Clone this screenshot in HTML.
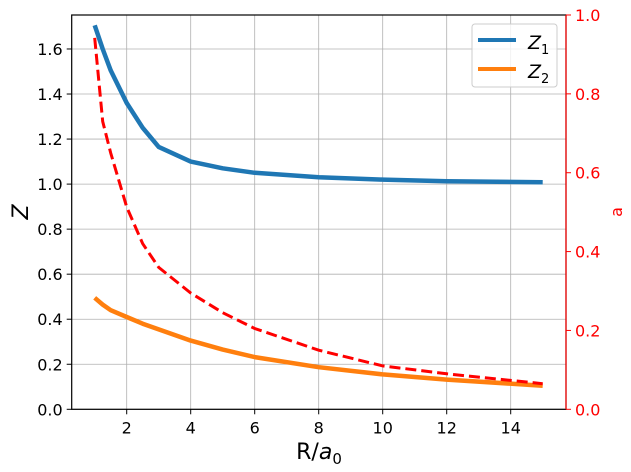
<!DOCTYPE html>
<html><head><meta charset="utf-8"><style>
body{margin:0;background:#fff;}
svg{display:block;font-family:"DejaVu Sans","Liberation Sans",sans-serif;}
</style></head><body>
<svg id="chart" width="631" height="472" xmlns="http://www.w3.org/2000/svg">
<g id="grid"></g>
<g id="series"></g>
<rect x="71.7" y="15" width="494.3" height="394.3" fill="none" stroke="#000" stroke-width="1.2"/>
<g id="axes"></g>
<text x="319" y="459" font-size="22" text-anchor="middle">R/<tspan font-style="italic">a</tspan><tspan font-size="15" dy="5">0</tspan></text>
<text x="0" y="0" font-size="22" font-style="italic" text-anchor="middle" transform="translate(28,212) rotate(-90)">Z</text>
<text x="0" y="0" font-size="16" fill="#ff0000" text-anchor="middle" transform="translate(622,212) rotate(-90)">a</text>
<g>
<rect x="472" y="24" width="85" height="63" rx="3" fill="#fff" fill-opacity="0.8" stroke="#ccc"/>
<line x1="478" y1="40" x2="516" y2="40" stroke="#1f77b4" stroke-width="4"/>
<text x="528" y="49" font-size="19" font-style="italic">Z<tspan font-style="normal" font-size="13" dy="5">1</tspan></text>
<line x1="478" y1="69" x2="516" y2="69" stroke="#ff7f0e" stroke-width="4"/>
<text x="528" y="78" font-size="19" font-style="italic">Z<tspan font-style="normal" font-size="13" dy="5">2</tspan></text>
</g>
</svg>
<script>
const xVals=[1,1.25,1.5,2,2.5,3,4,5,6,8,10,12,15];
const z1Vals=[1.705,1.6,1.505,1.36,1.25,1.165,1.1,1.07,1.05,1.03,1.02,1.013,1.008];
const z2Vals=[0.495,0.465,0.44,0.41,0.38,0.355,0.305,0.265,0.232,0.187,0.155,0.132,0.105];
const aVals=[0.942,0.73,0.65,0.513,0.42,0.36,0.295,0.245,0.205,0.15,0.11,0.09,0.065];
const xTicks=[2,4,6,8,10,12,14];
const yTicks=[0,0.2,0.4,0.6,0.8,1.0,1.2,1.4,1.6];
const y2Ticks=[0,0.2,0.4,0.6,0.8,1.0];
const L=71.7,R=566,T=15,B=409.3;
const sx=v=>62.7+v*32;
const sy=v=>B-v*225.2;
const sy2=v=>B-v*(B-T);
const NS="http://www.w3.org/2000/svg";
function mk(tag,attrs,parent){const e=document.createElementNS(NS,tag);for(const k in attrs)e.setAttribute(k,attrs[k]);parent.appendChild(e);return e;}
const grid=document.getElementById('grid'),axes=document.getElementById('axes'),series=document.getElementById('series');
xTicks.forEach(t=>{const x=sx(t);
 const g=mk('line',{x1:x,x2:x,y1:T,y2:B,stroke:'#b0b0b0','stroke-width':0.8},grid);
 
 
 const k=mk('line',{x1:x,x2:x,y1:B,y2:B+5,stroke:'#000'},axes);
 
 
 const l=mk('text',{x:x,y:B+24,'font-size':16,'text-anchor':'middle'},axes);l.textContent=t;
 
 
});
yTicks.forEach(t=>{const y=sy(t);
 const g=mk('line',{x1:L,x2:R,y1:y,y2:y,stroke:'#b0b0b0','stroke-width':0.8},grid);
 
 
 const k=mk('line',{x1:L-5,x2:L,y1:y,y2:y,stroke:'#000'},axes);
 
 
 const l=mk('text',{x:L-9,y:y+6,'font-size':16,'text-anchor':'end'},axes);l.textContent=t.toFixed(1);
 
 
});
y2Ticks.forEach(t=>{const y=sy2(t);
 const k=mk('line',{x1:R,x2:R+5,y1:y,y2:y,stroke:'#ff0000'},axes);
 
 
 const l=mk('text',{x:R+9,y:y+6,'font-size':16,fill:'#ff0000'},axes);l.textContent=t.toFixed(1);
 
 
});
const ax2=mk('line',{x1:R,x2:R,y1:T,y2:B,stroke:'#ff0000','stroke-width':1.2},axes);


function pathFrom(ys,fy){let d='';for(let i=0;i<xVals.length;i++){d+=(i?'L':'M')+sx(xVals[i]).toFixed(1)+','+fy(ys[i]).toFixed(1);}return d;}
const p1=mk('path',{d:pathFrom(z1Vals,sy),fill:'none',stroke:'#1f77b4','stroke-width':4.5,'stroke-linejoin':'round'},series);


const p2=mk('path',{d:pathFrom(z2Vals,sy),fill:'none',stroke:'#ff7f0e','stroke-width':4.5,'stroke-linejoin':'round'},series);


const p3=mk('path',{d:pathFrom(aVals,sy2),fill:'none',stroke:'#ff0000','stroke-width':3,'stroke-dasharray':'11,5'},series);


</script>
</body></html>
